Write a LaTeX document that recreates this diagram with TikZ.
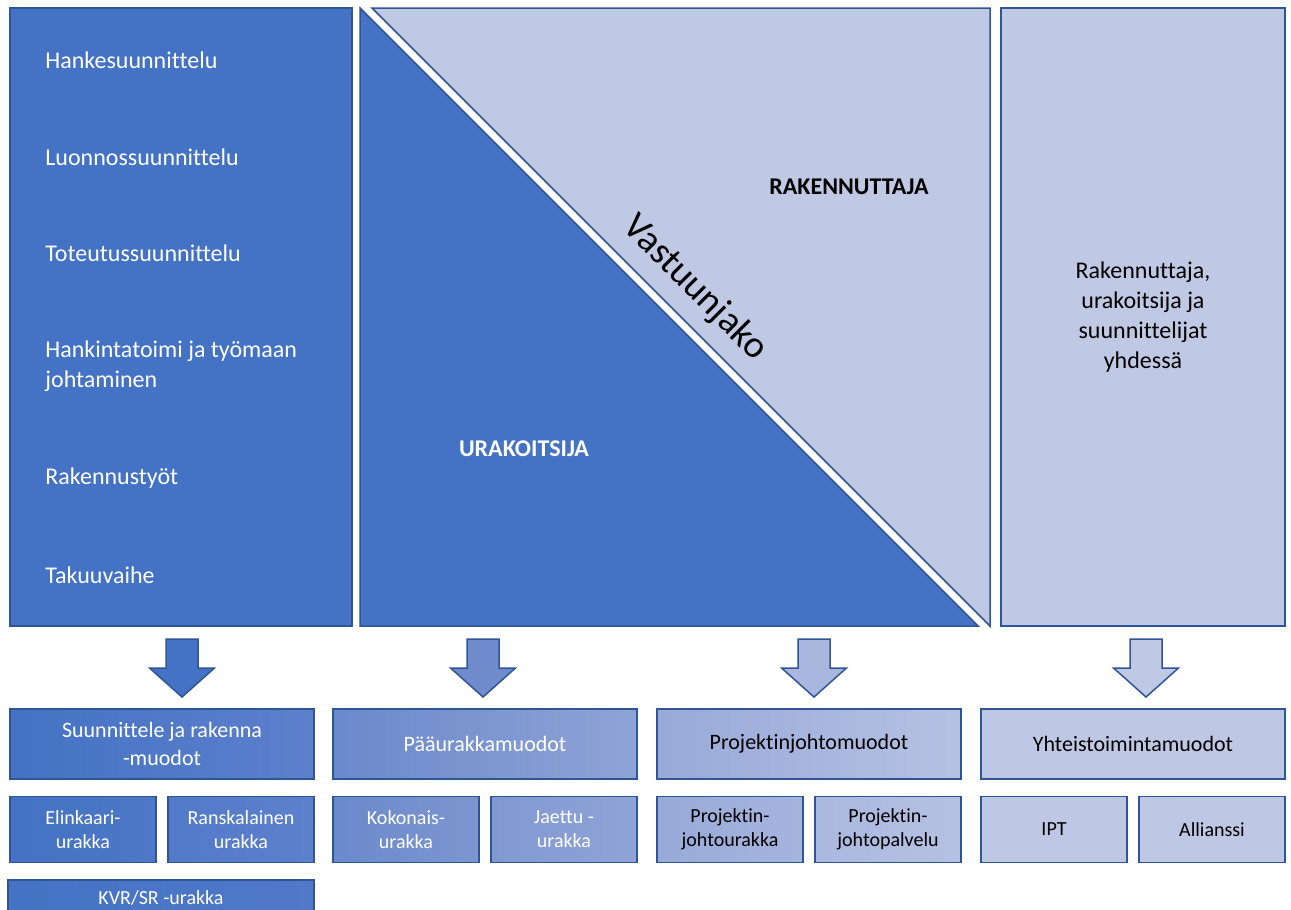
\documentclass[tikz,border=0pt]{standalone}
\usepackage{fontspec}
\setmainfont{Carlito}[Ligatures=NoCommon]
\usetikzlibrary{positioning}

\definecolor{tumma}{RGB}{68,114,196}
\definecolor{vaalea}{RGB}{192,201,228}
\definecolor{reuna}{RGB}{47,85,151}
\definecolor{nuoli2}{RGB}{111,139,204}
\definecolor{nuoli3}{RGB}{169,183,222}
\definecolor{sa}{RGB}{92,128,204}
\definecolor{sb}{RGB}{106,137,203}
\definecolor{sc}{RGB}{144,163,214}
\definecolor{sd}{RGB}{152,170,217}
\definecolor{se}{RGB}{182,193,227}
\definecolor{sf}{RGB}{190,200,228}

\begin{document}
\begin{tikzpicture}[x=0.5pt,y=-0.5pt,
  reunat/.style={draw=reuna, line width=0.75pt},
  muoto/.style={reunat, minimum width=152pt, minimum height=35pt, inner sep=0pt,
    align=center, font=\fontsize{11}{14}\selectfont},
  alamuoto/.style={reunat, minimum width=73pt, minimum height=33pt, inner sep=0pt,
    align=center, font=\fontsize{10}{12}\selectfont},
  vaihe/.style={anchor=west, inner sep=0pt, text=white, align=left,
    font=\fontsize{12}{15}\selectfont},
  otsikko/.style={inner sep=0pt, font=\bfseries\fontsize{12}{15}\selectfont}]

\useasboundingbox (0,0) rectangle (1291,910);
\clip (0,0) rectangle (1291,910);

% Ylaosa
\draw[reunat, fill=tumma] (10,8) rectangle (352,626);
\draw[reunat, fill=tumma] (360,8) -- (978,626) -- (360,626) -- cycle;
\draw[reunat, fill=vaalea] (372,8) -- (990,8) -- (990,626) -- cycle;
\draw[reunat, fill=vaalea] (1001,8) rectangle (1285,626);

\node[vaihe] (v1) at (45,60) {Hankesuunnittelu};
\node[vaihe] (v2) at (45,157) {Luonnossuunnittelu};
\node[vaihe] (v3) at (45,253) {Toteutussuunnittelu};
\node[vaihe] (v4) at (45,366) {Hankintatoimi ja työmaan\\johtaminen};
\node[vaihe] (v5) at (45,478) {Rakennustyöt};
\node[vaihe] (v6) at (45,575) {Takuuvaihe};

\node[otsikko, text=white] (urakoitsija) at (524,449) {URAKOITSIJA};
\node[otsikko] (rakennuttaja) at (849,187) {RAKENNUTTAJA};
\node[rotate=-45, inner sep=0pt, font=\fontsize{19}{23}\selectfont] (vastuu) at (695,288) {Vastuunjako};
\node[align=center, inner sep=0pt, font=\fontsize{12}{15}\selectfont] (yhdessa) at (1143,317)
  {Rakennuttaja,\\urakoitsija ja\\suunnittelijat\\yhdessä};

% Nuolet
\foreach \x/\v in {182/tumma, 483/nuoli2, 814/nuoli3, 1146/vaalea}
  \draw[reunat, fill=\v] (\x-16,639) -- (\x+16,639) -- (\x+16,668) -- (\x+32.5,668)
    -- (\x,697) -- (\x-32.5,668) -- (\x-16,668) -- cycle;

% Hankemuodot
\node[muoto, left color=tumma, right color=sa, text=white] (sr) at (162,744) {Suunnittele ja rakenna\\-muodot};
\node[muoto, left color=sb, right color=sc, text=white] (pu) at (485,744) {Pääurakkamuodot};
\node[muoto, left color=sd, right color=se] (pj) at (809,744) {Projektinjohtomuodot};
\node[muoto, fill=sf] (yt) at (1133,744) {Yhteistoimintamuodot};

\node[alamuoto, left color=tumma, right color=tumma!60!sa, text=white,
  below right=8pt and 0pt of sr.south west] (elinkaari) {Elinkaari-\\urakka};
\node[alamuoto, left color=tumma!40!sa, right color=sa, text=white,
  below left=8pt and 0pt of sr.south east] (ranska) {Ranskalainen\\urakka};
\node[alamuoto, left color=sb, right color=sb!50!sc, text=white,
  below right=8pt and 0pt of pu.south west] (kokonais) {Kokonais-\\urakka};
\node[alamuoto, left color=sb!40!sc, right color=sc, text=white,
  below left=8pt and 0pt of pu.south east] (jaettu) {Jaettu -\\urakka};
\node[alamuoto, left color=sd, right color=sd!55!se,
  below right=8pt and 0pt of pj.south west] (pjurakka) {Projektin-\\johtourakka};
\node[alamuoto, left color=sd!40!se, right color=se,
  below left=8pt and 0pt of pj.south east] (pjpalvelu) {Projektin-\\johtopalvelu};
\node[alamuoto, fill=sf, below right=8pt and 0pt of yt.south west] (ipt) {IPT};
\node[alamuoto, fill=sf, below left=8pt and 0pt of yt.south east] (allianssi) {Allianssi};

\node[alamuoto, minimum width=153pt, minimum height=18pt, left color=tumma, right color=tumma!50!sa,
  text=white, below right=8pt and -1pt of elinkaari.south west] (kvr) {KVR/SR -urakka};

\end{tikzpicture}
\end{document}
